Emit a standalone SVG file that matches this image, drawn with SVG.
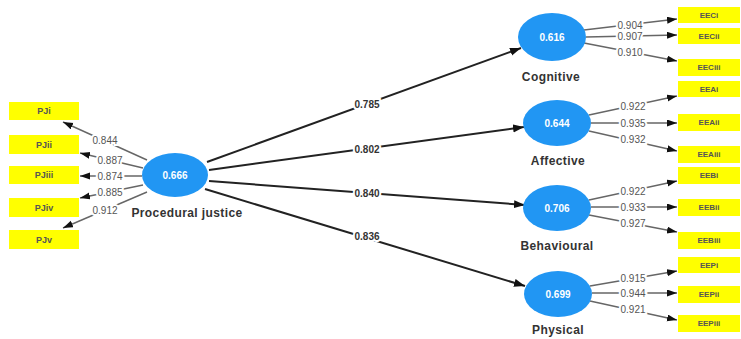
<svg xmlns="http://www.w3.org/2000/svg" width="741" height="339" viewBox="0 0 741 339">
<style>
.lv{fill:#2196F3}
.lvv{font-family:"Liberation Sans",Arial,sans-serif;font-size:10px;font-weight:bold;fill:#fff;text-anchor:middle;dominant-baseline:central}
.nm{font-family:"Liberation Sans",Arial,sans-serif;font-size:12px;font-weight:bold;fill:#333;text-anchor:middle;dominant-baseline:central;letter-spacing:0.4px}
.box{fill:#FFFF00}
.bt{font-family:"Liberation Sans",Arial,sans-serif;font-size:8px;font-weight:bold;fill:#555;text-anchor:middle;dominant-baseline:central}
.pt{font-family:"Liberation Sans",Arial,sans-serif;font-size:9px;font-weight:bold;fill:#555;text-anchor:middle;dominant-baseline:central}
.path{stroke:#222;stroke-width:2;fill:none;marker-end:url(#ah)}
.ind{stroke:#666;stroke-width:1.4;fill:none;marker-end:url(#ah2)}
.pl{font-family:"Liberation Sans",Arial,sans-serif;font-size:10px;font-weight:bold;fill:#333;text-anchor:middle;dominant-baseline:central;stroke:#fff;stroke-width:4;paint-order:stroke}
.il{font-family:"Liberation Sans",Arial,sans-serif;font-size:10px;fill:#555;text-anchor:middle;dominant-baseline:central;stroke:#fff;stroke-width:4;paint-order:stroke}
</style>
<defs>
<marker id="ah" markerUnits="userSpaceOnUse" markerWidth="12" markerHeight="10" refX="11" refY="4" orient="auto"><path d="M0,0 L11,4 L0,8 Z" fill="#111"/></marker>
<marker id="ah2" markerUnits="userSpaceOnUse" markerWidth="11" markerHeight="9" refX="10" refY="3.5" orient="auto"><path d="M0,0 L10,3.5 L0,7 Z" fill="#111"/></marker>
</defs>
<rect width="741" height="339" fill="#fff"/>
<g id="connectors">
<line class="path" x1="207" y1="162" x2="521" y2="48"/>
<line class="path" x1="209" y1="170" x2="524" y2="127"/>
<line class="path" x1="209" y1="181" x2="525" y2="205"/>
<line class="path" x1="205" y1="189" x2="525" y2="286"/>
<text class="pl" x="367" y="104">0.785</text>
<text class="pl" x="367" y="149">0.802</text>
<text class="pl" x="367" y="193">0.840</text>
<text class="pl" x="367" y="236">0.836</text>
<line class="ind" x1="147" y1="160" x2="63" y2="122"/>
<line class="ind" x1="143" y1="168" x2="80" y2="153"/>
<line class="ind" x1="142" y1="176" x2="80" y2="176"/>
<line class="ind" x1="143" y1="185" x2="80" y2="198"/>
<line class="ind" x1="147" y1="192" x2="63" y2="228"/>
<text class="il" x="105" y="140">0.844</text>
<text class="il" x="110" y="160">0.887</text>
<text class="il" x="110" y="176">0.874</text>
<text class="il" x="110" y="192">0.885</text>
<text class="il" x="105" y="210">0.912</text>
<line class="ind" x1="584" y1="30" x2="677" y2="19"/>
<line class="ind" x1="586" y1="37" x2="677" y2="35"/>
<line class="ind" x1="584" y1="43" x2="677" y2="61"/>
<text class="il" x="630" y="25">0.904</text>
<text class="il" x="630" y="36">0.907</text>
<text class="il" x="630" y="52">0.910</text>
<line class="ind" x1="589" y1="115" x2="677" y2="96"/>
<line class="ind" x1="591" y1="123" x2="677" y2="123"/>
<line class="ind" x1="589" y1="131" x2="677" y2="151"/>
<text class="il" x="633" y="106">0.922</text>
<text class="il" x="633" y="123">0.935</text>
<text class="il" x="633" y="139">0.932</text>
<line class="ind" x1="589" y1="200" x2="677" y2="181"/>
<line class="ind" x1="591" y1="207" x2="677" y2="207"/>
<line class="ind" x1="589" y1="215" x2="677" y2="232"/>
<text class="il" x="633" y="191">0.922</text>
<text class="il" x="633" y="207">0.933</text>
<text class="il" x="633" y="223">0.927</text>
<line class="ind" x1="590" y1="286" x2="677" y2="271"/>
<line class="ind" x1="592" y1="293" x2="677" y2="293"/>
<line class="ind" x1="590" y1="301" x2="677" y2="320"/>
<text class="il" x="633" y="278">0.915</text>
<text class="il" x="633" y="293">0.944</text>
<text class="il" x="633" y="309">0.921</text>
</g>
<g id="procedural"><ellipse class="lv" cx="175" cy="175" rx="33" ry="22"/><text class="lvv" x="175" y="175">0.666</text><text class="nm" x="187" y="213">Procedural justice</text></g>
<g id="cognitive"><ellipse class="lv" cx="552" cy="37" rx="34" ry="24"/><text class="lvv" x="552" y="37">0.616</text><text class="nm" x="551" y="77">Cognitive</text></g>
<g id="affective"><ellipse class="lv" cx="557" cy="123" rx="34" ry="23"/><text class="lvv" x="557" y="123">0.644</text><text class="nm" x="558" y="161">Affective</text></g>
<g id="behavioural"><ellipse class="lv" cx="557" cy="208" rx="34" ry="23"/><text class="lvv" x="557" y="208">0.706</text><text class="nm" x="557" y="246">Behavioural</text></g>
<g id="physical"><ellipse class="lv" cx="558" cy="294" rx="34" ry="23"/><text class="lvv" x="558" y="294">0.699</text><text class="nm" x="558" y="330">Physical</text></g>
<g id="PJi"><rect class="box" x="9" y="102" width="70" height="18"/><text class="pt" x="44" y="111">PJi</text></g>
<g id="PJii"><rect class="box" x="9" y="135" width="70" height="19"/><text class="pt" x="44" y="144.5">PJii</text></g>
<g id="PJiii"><rect class="box" x="9" y="166" width="70" height="18"/><text class="pt" x="44" y="175">PJiii</text></g>
<g id="PJiv"><rect class="box" x="9" y="198" width="70" height="19"/><text class="pt" x="44" y="207.5">PJiv</text></g>
<g id="PJv"><rect class="box" x="9" y="230" width="70" height="19"/><text class="pt" x="44" y="239.5">PJv</text></g>
<g id="EECi"><rect class="box" x="678" y="7" width="62" height="16"/><text class="bt" x="709" y="15">EECi</text></g>
<g id="EECii"><rect class="box" x="678" y="28" width="62" height="16"/><text class="bt" x="709" y="36">EECii</text></g>
<g id="EECiii"><rect class="box" x="678" y="59" width="62" height="17"/><text class="bt" x="709" y="67.5">EECiii</text></g>
<g id="EEAi"><rect class="box" x="678" y="81" width="62" height="16"/><text class="bt" x="709" y="89">EEAi</text></g>
<g id="EEAii"><rect class="box" x="678" y="114" width="62" height="17"/><text class="bt" x="709" y="122.5">EEAii</text></g>
<g id="EEAiii"><rect class="box" x="678" y="146" width="62" height="17"/><text class="bt" x="709" y="154.5">EEAiii</text></g>
<g id="EEBi"><rect class="box" x="678" y="167" width="62" height="17"/><text class="bt" x="709" y="175.5">EEBi</text></g>
<g id="EEBii"><rect class="box" x="678" y="199" width="62" height="17"/><text class="bt" x="709" y="207.5">EEBii</text></g>
<g id="EEBiii"><rect class="box" x="678" y="232" width="62" height="17"/><text class="bt" x="709" y="240.5">EEBiii</text></g>
<g id="EEPi"><rect class="box" x="678" y="257" width="62" height="16"/><text class="bt" x="709" y="265">EEPi</text></g>
<g id="EEPii"><rect class="box" x="678" y="286" width="62" height="17"/><text class="bt" x="709" y="294.5">EEPii</text></g>
<g id="EEPiii"><rect class="box" x="678" y="315" width="62" height="17"/><text class="bt" x="709" y="323.5">EEPiii</text></g>
</svg>
